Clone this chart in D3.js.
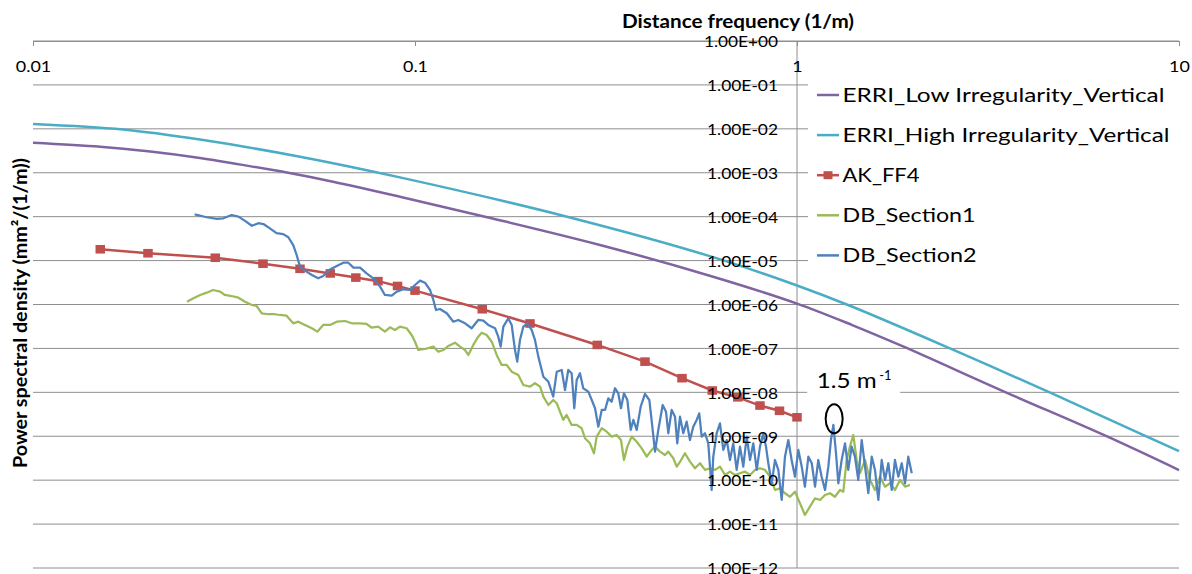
<!DOCTYPE html>
<html><head><meta charset="utf-8">
<script src="https://cdn.jsdelivr.net/npm/d3@7"></script>
<style>body{margin:0;background:#fff}svg{display:block}</style>
</head><body><svg id="c" width="1192" height="574"></svg>
<script>
// ---------- data ----------
const xTicks = [0.01, 0.1, 1, 10];
const xTickLabels = ["0.01", "0.1", "1", "10"];
const yTicks = [1, 1e-1, 1e-2, 1e-3, 1e-4, 1e-5, 1e-6, 1e-7, 1e-8, 1e-9, 1e-10, 1e-11, 1e-12];
const yTickLabels = ["1.00E+00","1.00E-01","1.00E-02","1.00E-03","1.00E-04","1.00E-05","1.00E-06","1.00E-07","1.00E-08","1.00E-09","1.00E-10","1.00E-11","1.00E-12"];
const seriesNames = ["ERRI_Low Irregularity_Vertical","ERRI_High Irregularity_Vertical","AK_FF4","DB_Section1","DB_Section2"];

const erriLowF   = [0.01, 0.015, 0.02, 0.02736, 0.035, 0.0462, 0.061, 0.0913, 0.1525, 0.305, 0.6, 1.0, 1.4, 1.895, 3.46, 6.48, 10];
const erriLowPSD = [4.83e-3, 3.92e-3, 3.08e-3, 2.17e-3, 1.53e-3, 1.01e-3, 6.25e-4, 2.85e-4, 1.0e-4, 2.27e-5, 4.35e-6, 1.05e-6, 3.36e-7, 1.11e-7, 1.07e-8, 9.9e-10, 1.7e-10];

const erriHighF   = [0.01, 0.0172, 0.02736, 0.05, 0.0913, 0.25, 0.603, 1.0, 1.376, 2.515, 4.65, 8.05, 10];
const erriHighPSD = [1.29e-2, 9.66e-3, 5.69e-3, 2.32e-3, 7.84e-4, 1.0e-4, 1.2e-5, 2.71e-6, 9.35e-7, 1.0e-7, 9.44e-9, 1.07e-9, 4.6e-10];

const akF   = [0.015,0.02,0.03,0.04,0.05,0.06,0.07,0.08,0.09,0.1,0.15,0.2,0.3,0.4,0.5,0.6,0.7,0.8,0.9,1.0];
const akPSD = [1.81e-5,1.47e-5,1.16e-5,8.5e-6,6.5e-6,5.1e-6,4.1e-6,3.4e-6,2.64e-6,2.07e-6,7.8e-7,3.7e-7,1.2e-7,5.0e-8,2.1e-8,1.1e-8,7.7e-9,5.0e-9,3.8e-9,2.7e-9];

// DB_Section1: [frequency, PSD]
const db1 = [
[0.0253,1.16e-6],[0.0263,1.39e-6],[0.0274,1.65e-6],[0.0285,1.86e-6],[0.0296,2.14e-6],[0.0309,1.96e-6],[0.0318,1.65e-6],[0.0331,1.56e-6],[0.0345,1.43e-6],[0.0359,1.16e-6],
[0.0374,9.75e-7],[0.0385,9.25e-7],[0.0397,6.3e-7],[0.0413,6.0e-7],[0.0430,6.0e-7],[0.0443,5.77e-7],[0.0461,5.56e-7],[0.0480,3.73e-7],[0.0495,4.06e-7],[0.0515,3.42e-7],
[0.0537,2.88e-7],[0.0555,2.41e-7],[0.0575,3.42e-7],[0.0599,3.42e-7],[0.0624,4.06e-7],[0.0656,4.21e-7],[0.0683,3.73e-7],[0.0718,3.73e-7],[0.0747,3.6e-7],[0.0770,2.97e-7],
[0.0801,3.13e-7],[0.0834,2.41e-7],[0.0860,3.03e-7],[0.0886,2.63e-7],[0.0913,3.13e-7],[0.0951,2.88e-7],[0.0980,2.02e-7],[0.100,1.42e-7],[0.1020,9.2e-8],[0.1062,9.7e-8],
[0.1117,1.10e-7],[0.1151,8.4e-8],[0.1186,9.2e-8],[0.1223,1.14e-7],[0.1273,1.35e-7],[0.1312,1.10e-7],[0.1352,9.2e-8],[0.1379,7.1e-8],[0.1421,1.20e-7],[0.1464,1.85e-7],
[0.1495,2.28e-7],[0.1540,2.02e-7],[0.1588,1.42e-7],[0.1636,7.1e-8],[0.1686,4.2e-8],[0.1738,4.2e-8],[0.1791,2.95e-8],[0.1864,2.48e-8],[0.1921,1.47e-8],[0.2000,1.35e-8],
[0.2061,1.61e-8],[0.2125,1.35e-8],[0.2168,7.96e-9],[0.2234,5.15e-9],[0.2301,6.7e-9],[0.2350,5.64e-9],[0.2396,3.63e-9],[0.2444,2.35e-9],[0.2494,3.05e-9],[0.2571,1.81e-9],
[0.2650,1.81e-9],[0.2731,1.52e-9],[0.2786,9.0e-10],[0.2871,6.9e-10],[0.2941,4.1e-10],[0.2990,9.8e-10],[0.3082,1.52e-9],[0.3176,1.27e-9],[0.3272,9.8e-10],[0.3373,1.07e-9],
[0.3461,8.2e-10],[0.3524,2.88e-10],[0.3596,5.8e-10],[0.3692,9.8e-10],[0.3805,7.5e-10],[0.3922,5.3e-10],[0.4042,3.43e-10],[0.4165,4.88e-10],[0.4250,5.8e-10],[0.4379,4.46e-10],
[0.4512,3.75e-10],[0.4603,4.46e-10],[0.4745,3.15e-10],[0.4843,2.03e-10],[0.4940,2.6e-10],[0.5090,4.1e-10],[0.5246,2.64e-10],[0.5408,1.87e-10],[0.5572,2.43e-10],[0.5743,1.71e-10],
[0.5921,1.87e-10],[0.6100,1.71e-10],[0.6286,2.03e-10],[0.6479,1.31e-10],[0.6677,1.56e-10],[0.6882,1.31e-10],[0.7092,1.44e-10],[0.7310,1.56e-10],[0.7533,1.31e-10],[0.7762,1.71e-10],
[0.8000,1.87e-10],[0.8245,1.71e-10],[0.8498,1.2e-10],[0.8758,5.98e-11],[0.9026,6.5e-11],[0.930,5.04e-11],[0.9587,4.2e-11],[0.988,5.47e-11],[1.018,2.98e-11],[1.049,1.61e-11],
[1.081,2.49e-11],[1.115,3.87e-11],[1.149,3.54e-11],[1.184,4.6e-11],[1.220,5.04e-11],[1.257,4.2e-11],[1.296,5.98e-11],[1.322,5.47e-11],[1.349,2.88e-10],[1.376,5.8e-10],
[1.404,1.07e-9],[1.433,2.88e-10],[1.462,1.44e-10],[1.507,2.88e-10],[1.553,1.01e-10],[1.600,5.98e-11],[1.650,1.2e-10],[1.700,7.1e-11],[1.752,8.5e-11],[1.805,5.98e-11],
[1.861,1.01e-10],[1.918,7.1e-11],[1.976,7.8e-11]
];

// DB_Section2: [frequency, PSD]
const db2 = [
[0.0265,1.13e-4],[0.0285,9.7e-5],[0.0303,8.9e-5],[0.0315,9.2e-5],[0.0331,1.09e-4],[0.0345,1.0e-4],[0.0359,8.0e-5],[0.0374,6.2e-5],[0.0389,7.1e-5],[0.0401,6.8e-5],
[0.0417,5.4e-5],[0.0434,4.2e-5],[0.0452,4.0e-5],[0.0466,3.4e-5],[0.0480,2.26e-5],[0.0490,1.34e-5],[0.0500,7.3e-6],[0.0515,5.9e-6],[0.0537,4.7e-6],[0.0558,3.95e-6],
[0.0575,4.46e-6],[0.0599,6.3e-6],[0.0624,7.5e-6],[0.0649,8.95e-6],[0.0669,8.95e-6],[0.0690,6.9e-6],[0.0718,6.9e-6],[0.0747,5.1e-6],[0.0778,3.95e-6],[0.0810,2.55e-6],
[0.0834,1.65e-6],[0.0869,1.59e-6],[0.0896,1.96e-6],[0.0932,2.22e-6],[0.0970,2.14e-6],[0.100,2.78e-6],[0.1031,3.49e-6],[0.1062,3.14e-6],[0.1095,2.14e-6],[0.1117,1.27e-6],
[0.1135,7.5e-7],[0.1162,7.9e-7],[0.1211,6.3e-7],[0.1260,4.06e-7],[0.1298,4.44e-7],[0.1352,3.73e-7],[0.1407,2.88e-7],[0.1464,4.44e-7],[0.1510,4.28e-7],[0.1555,3.42e-7],
[0.1620,2.88e-7],[0.1652,1.85e-7],[0.1676,1.10e-7],[0.1703,3.13e-7],[0.1755,4.85e-7],[0.1791,3.42e-7],[0.1827,9.2e-8],[0.1852,5.0e-8],[0.1883,1.56e-7],[0.1921,3.13e-7],
[0.1968,3.73e-7],[0.2020,2.63e-7],[0.2061,1.56e-7],[0.2103,6.5e-8],[0.2168,2.27e-8],[0.2234,1.75e-8],[0.2301,7.96e-9],[0.2350,2.95e-8],[0.2421,3.23e-8],[0.2470,1.13e-8],
[0.2519,3.23e-8],[0.2571,2.72e-8],[0.2612,4.34e-9],[0.2650,1.91e-8],[0.2703,2.72e-8],[0.2757,1.24e-8],[0.2842,1.04e-8],[0.2902,6.7e-9],[0.2960,4.34e-9],[0.3019,1.65e-9],
[0.3082,3.97e-9],[0.3144,3.97e-9],[0.3206,7.3e-9],[0.3272,6.1e-9],[0.3338,1.24e-8],[0.3405,9.5e-9],[0.3461,4.34e-9],[0.3524,9.5e-9],[0.3596,6.7e-9],[0.3670,1.39e-9],
[0.3728,2.35e-9],[0.3805,1.39e-9],[0.3898,4.71e-9],[0.4000,9.2e-9],[0.4106,6.7e-9],[0.4181,1.65e-9],[0.4250,4.46e-10],[0.4334,1.39e-9],[0.4450,5.15e-9],[0.4540,3.63e-9],
[0.4603,1.17e-9],[0.4698,3.97e-9],[0.4793,2.79e-9],[0.4859,6.9e-10],[0.4940,2.79e-9],[0.5039,1.17e-9],[0.5143,2.15e-9],[0.5246,8.2e-10],[0.5351,1.65e-9],[0.5462,2.35e-9],
[0.5548,3.33e-9],[0.5629,9.8e-10],[0.5743,1.17e-9],[0.5858,6.9e-10],[0.5979,5.98e-11],[0.6037,3.43e-10],[0.6162,1.17e-9],[0.6286,1.97e-9],[0.6413,4.88e-10],[0.6546,8.2e-10],
[0.6677,2.88e-10],[0.6810,6.9e-10],[0.6951,1.71e-10],[0.7092,5.8e-10],[0.7234,2.03e-10],[0.7385,9.8e-10],[0.7533,2.88e-10],[0.7685,6.9e-10],[0.7845,1.71e-10],[0.8000,5.8e-10],
[0.8162,1.17e-9],[0.8295,5.8e-10],[0.8412,2.43e-10],[0.8585,8.5e-11],[0.8758,2.88e-10],[0.8935,1.71e-10],[0.912,3.54e-11],[0.930,3.43e-10],[0.949,8.2e-10],[0.968,2.88e-10],
[0.988,1.2e-10],[1.008,4.88e-10],[1.029,2.03e-10],[1.049,7.1e-11],[1.071,3.43e-10],[1.093,2.43e-10],[1.115,7.1e-11],[1.137,2.88e-10],[1.160,1.2e-10],[1.184,5.98e-11],
[1.208,2.03e-10],[1.227,8.2e-10],[1.245,1.81e-9],[1.265,4.1e-10],[1.283,8.5e-11],[1.309,2.88e-10],[1.336,6.9e-10],[1.362,1.71e-10],[1.390,5.8e-10],[1.418,3.43e-10],
[1.447,1.01e-10],[1.477,8.2e-10],[1.507,2.03e-10],[1.537,5.04e-11],[1.569,3.43e-10],[1.600,1.71e-10],[1.633,3.54e-11],[1.666,2.88e-10],[1.700,1.01e-10],[1.734,2.43e-10],
[1.770,5.98e-11],[1.805,2.88e-10],[1.842,1.2e-10],[1.880,2.43e-10],[1.918,8.5e-11],[1.956,3.43e-10],[1.997,1.44e-10]
];

// annotation (peak marked on DB_Section2)
const annotF = 1.251, annotPSD = 2.51e-9, annotText = "1.5 m", annotSup = "-1";

// ---------- drawing ----------
const FONT = "Lato, 'Open Sans', 'Liberation Sans', sans-serif";
const colors = ["#8064A2", "#4BACC6", "#C0504D", "#9BBB59", "#4F81BD"];
const gridColor = "#8e8e8e";
const svg = d3.select("#c");

const x = d3.scaleLog().domain([0.01, 10]).range([33, 1179]);
const y = d3.scaleLog().domain([1, 1e-12]).range([41, 568]);

// gridlines
svg.append("g").selectAll("line").data(yTicks).join("line")
  .attr("x1", x(0.01)).attr("x2", x(10))
  .attr("y1", d => y(d)).attr("y2", d => y(d))
  .attr("stroke", gridColor).attr("stroke-width", 1);

// vertical axis line
svg.append("line").attr("x1", x(1)).attr("x2", x(1)).attr("y1", y(1)).attr("y2", y(1e-12))
  .attr("stroke", gridColor).attr("stroke-width", 1);

// x axis (top)
const gx = svg.append("g").attr("transform", `translate(0,${y(1)})`)
  .call(d3.axisBottom(x).tickValues(xTicks).tickFormat((d, i) => xTickLabels[i])
    .tickSize(5).tickSizeOuter(0).tickPadding(15));
gx.select(".domain").attr("stroke", gridColor);
gx.selectAll(".tick line").attr("stroke", gridColor);
gx.selectAll("text").attr("font-family", FONT).attr("font-size", 16).attr("fill", "#000")
  .each(function () { const w = this.getComputedTextLength(); d3.select(this).attr("textLength", w * 1.12).attr("lengthAdjust", "spacingAndGlyphs"); });

// lines
const line = d3.line().x(d => x(d[0])).y(d => y(d[1]));
const smooth = d3.line().x(d => x(d[0])).y(d => y(d[1])).curve(d3.curveCatmullRom.alpha(0.5));
const zip = (a, b) => a.map((v, i) => [v, b[i]]);

svg.append("path").datum(zip(erriLowF, erriLowPSD)).attr("d", smooth)
  .attr("fill", "none").attr("stroke", colors[0]).attr("stroke-width", 2.5);
svg.append("path").datum(zip(erriHighF, erriHighPSD)).attr("d", smooth)
  .attr("fill", "none").attr("stroke", colors[1]).attr("stroke-width", 2.5);
const ak = zip(akF, akPSD);
svg.append("path").datum(ak).attr("d", line)
  .attr("fill", "none").attr("stroke", colors[2]).attr("stroke-width", 2.5);
svg.append("g").selectAll("rect").data(ak).join("rect")
  .attr("x", d => x(d[0]) - 4.75).attr("y", d => y(d[1]) - 4.3)
  .attr("width", 9.5).attr("height", 8.6).attr("fill", colors[2]);
svg.append("path").datum(db1).attr("d", line)
  .attr("fill", "none").attr("stroke", colors[3]).attr("stroke-width", 2.25).attr("stroke-linejoin", "round");
svg.append("path").datum(db2).attr("d", line)
  .attr("fill", "none").attr("stroke", colors[4]).attr("stroke-width", 2.25).attr("stroke-linejoin", "round");

// y axis labels (on top)
const gy = svg.append("g").attr("transform", `translate(${x(1)},0)`)
  .call(d3.axisLeft(y).tickValues(yTicks).tickFormat((d, i) => yTickLabels[i]).tickSize(0).tickPadding(19));
gy.select(".domain").remove();
gy.selectAll("text").attr("font-family", FONT).attr("font-size", 16).attr("fill", "#000").attr("dy", "0.36em")
  .attr("textLength", (d, i) => yTickLabels[i].includes("+") ? 74 : 71).attr("lengthAdjust", "spacingAndGlyphs");

// axis titles
svg.append("text").attr("x", 738).attr("y", 28.3).attr("text-anchor", "middle")
  .attr("font-family", FONT).attr("font-weight", "bold").attr("font-size", 18.5)
  .attr("textLength", 232).attr("lengthAdjust", "spacingAndGlyphs")
  .text("Distance frequency (1/m)");
svg.append("text").attr("transform", "translate(27,313) rotate(-90)").attr("text-anchor", "middle")
  .attr("font-family", FONT).attr("font-weight", "bold").attr("font-size", 18.5)
  .attr("textLength", 310).attr("lengthAdjust", "spacingAndGlyphs")
  .text("Power spectral density (mm²/(1/m))");

// legend
const lg = svg.append("g");
lg.append("rect").attr("x", 808).attr("y", 74).attr("width", 378).attr("height", 204).attr("fill", "#fff");
const legW = [322, 327, 77, 133, 134];
seriesNames.forEach((name, i) => {
  const cy = 95 + i * 40.1;
  lg.append("line").attr("x1", 817).attr("x2", 839).attr("y1", cy).attr("y2", cy)
    .attr("stroke", colors[i]).attr("stroke-width", 2.5);
  if (i === 2) lg.append("rect").attr("x", 828 - 4.5).attr("y", cy - 4).attr("width", 9).attr("height", 8).attr("fill", colors[i]);
  lg.append("text").attr("x", 842.5).attr("y", cy + 6.8)
    .attr("font-family", FONT).attr("font-size", 18.5).attr("fill", "#000")
    .attr("textLength", legW[i]).attr("lengthAdjust", "spacingAndGlyphs").text(name);
});

// annotation
const ax = x(annotF), ay = y(annotPSD);
svg.append("rect").attr("x", ax - 27).attr("y", ay - 58).attr("width", 93).attr("height", 37).attr("fill", "#fff");
svg.append("text").attr("x", ax - 17.5).attr("y", ay - 30.4)
  .attr("font-family", FONT).attr("font-size", 21.5).attr("fill", "#000")
  .attr("textLength", 60).attr("lengthAdjust", "spacingAndGlyphs").text(annotText);
svg.append("text").attr("x", ax + 45).attr("y", ay - 38.5)
  .attr("font-family", FONT).attr("font-size", 13).attr("fill", "#000").text(annotSup);
svg.append("ellipse").attr("cx", ax).attr("cy", ay).attr("rx", 8.5).attr("ry", 14.5)
  .attr("fill", "none").attr("stroke", "#000").attr("stroke-width", 2);
</script></body></html>
